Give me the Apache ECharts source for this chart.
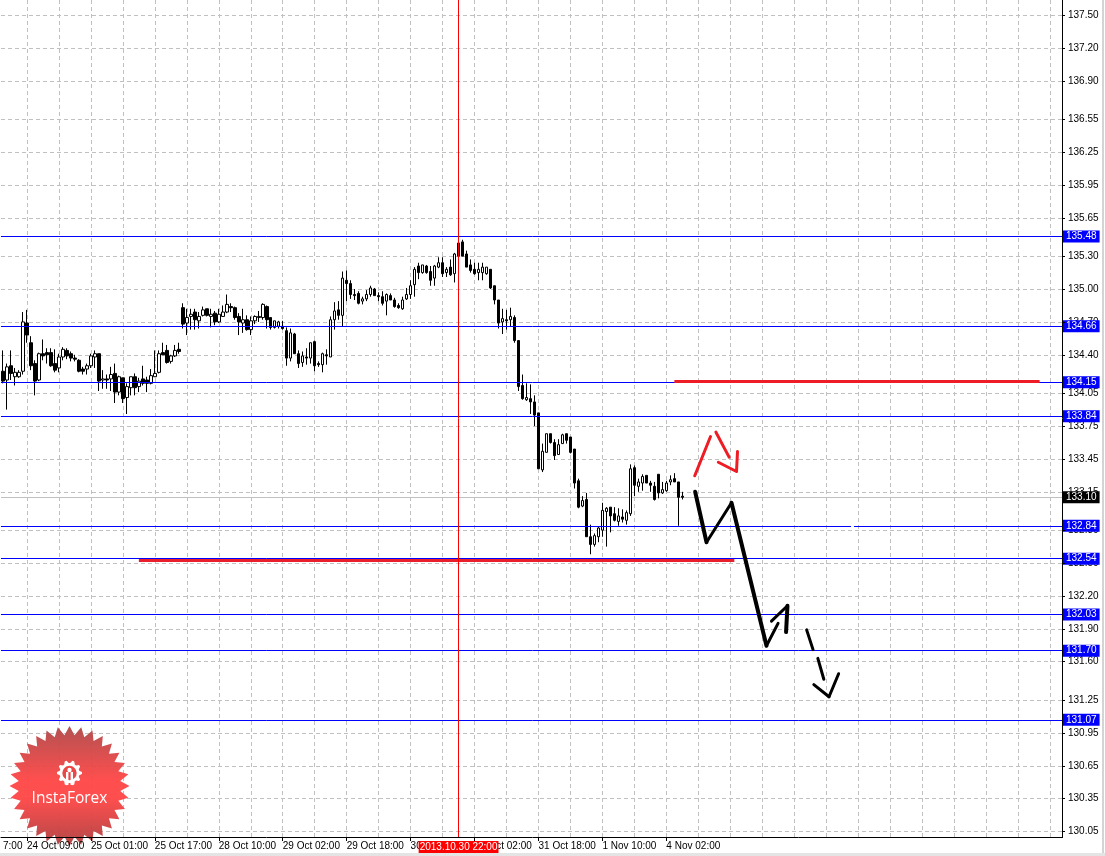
<!DOCTYPE html>
<html><head><meta charset="utf-8">
<style>html,body{margin:0;padding:0;background:#fff}#c{width:1105px;height:856px}</style>
<script src="https://cdn.jsdelivr.net/npm/echarts@6/dist/echarts.min.js"></script>
</head><body><div id="c"></div>
<script>
const opens=[134.25,134.17,134.30,134.20,134.20,134.25,134.69,134.51,134.32,134.17,
134.41,134.42,134.42,134.32,134.28,134.38,134.44,134.41,134.37,134.35,
134.27,134.27,134.30,134.38,134.41,134.17,134.18,134.18,134.23,134.06,
134.19,134.01,134.10,134.20,134.11,134.18,134.17,134.14,134.20,134.24,
134.42,134.44,134.34,134.39,134.45,134.83,134.69,134.75,134.79,134.71,
134.76,134.82,134.75,134.78,134.70,134.75,134.79,134.84,134.83,134.75,
134.69,134.72,134.63,134.71,134.74,134.74,134.84,134.74,134.65,134.66,
134.66,134.62,134.37,134.59,134.41,134.33,134.38,134.37,134.52,134.32,
134.31,134.40,134.38,134.72,134.81,134.76,135.08,135.05,134.95,134.96,
134.89,134.91,134.95,135.00,134.94,134.93,134.89,134.94,134.90,134.85,
134.82,134.91,134.95,135.04,135.21,135.15,135.21,135.16,135.10,135.20,
135.24,135.15,135.20,135.14,135.42,135.43,135.32,135.22,135.18,135.15,
135.15,135.14,135.18,135.03,134.90,134.70,134.72,134.72,134.74,134.53,
134.12,133.99,134.00,133.97,133.87,133.35,133.51,133.68,133.60,133.49,
133.59,133.68,133.65,133.54,133.25,133.02,133.08,132.74,132.67,132.74,
132.80,132.97,133.01,132.95,132.88,132.92,132.89,132.95,133.37,133.20,
133.23,133.30,133.23,133.20,133.31,133.14,133.16,133.24,133.27,133.24,133.11];
const closes=[134.16,134.29,134.23,134.24,134.24,134.70,134.58,134.30,134.16,134.41,
134.39,134.40,134.30,134.26,134.38,134.45,134.39,134.37,134.36,134.25,
134.25,134.30,134.39,134.41,134.16,134.18,134.17,134.22,134.06,134.20,
134.00,134.11,134.20,134.10,134.16,134.14,134.14,134.21,134.23,134.41,
134.40,134.33,134.39,134.44,134.43,134.68,134.74,134.77,134.72,134.75,
134.81,134.76,134.77,134.70,134.77,134.79,134.86,134.83,134.74,134.70,
134.72,134.63,134.71,134.75,134.75,134.86,134.72,134.65,134.71,134.70,
134.64,134.37,134.60,134.41,134.32,134.39,134.37,134.51,134.30,134.31,
134.41,134.39,134.72,134.80,134.76,135.10,135.05,134.95,134.94,134.87,
134.91,134.95,135.01,134.94,134.93,134.87,134.95,134.90,134.84,134.83,
134.90,134.95,135.03,135.18,135.15,135.22,135.15,135.08,135.21,135.24,
135.14,135.18,135.13,135.32,135.30,135.30,135.20,135.17,135.14,135.18,
135.20,135.20,135.01,134.90,134.69,134.73,134.71,134.75,134.53,134.11,
134.00,134.01,133.97,133.85,133.36,133.52,133.68,133.60,133.48,133.58,
133.67,133.62,133.51,133.23,133.01,133.07,132.74,132.67,132.75,132.82,
132.98,133.00,132.93,132.89,132.93,132.90,132.96,133.36,133.21,133.24,
133.29,133.23,133.21,133.08,133.14,133.17,133.23,133.26,133.24,133.10,133.10];
const lows=[134.14,133.90,134.17,134.12,134.19,134.22,134.51,134.26,134.03,134.16,
134.35,134.32,134.29,134.24,134.24,134.35,134.36,134.34,134.34,134.24,
134.22,134.22,134.28,134.28,134.07,134.09,134.09,134.07,133.96,134.03,
133.96,133.86,134.03,134.03,134.06,134.12,134.06,134.13,134.20,134.23,
134.40,134.32,134.32,134.38,134.41,134.64,134.58,134.63,134.63,134.64,
134.75,134.75,134.65,134.67,134.69,134.75,134.78,134.79,134.72,134.58,
134.60,134.62,134.58,134.68,134.70,134.72,134.64,134.63,134.64,134.64,
134.63,134.30,134.34,134.41,134.28,134.29,134.31,134.32,134.25,134.29,
134.24,134.31,134.38,134.63,134.72,134.66,134.89,134.91,134.90,134.86,
134.86,134.89,134.93,134.94,134.89,134.85,134.76,134.90,134.83,134.82,
134.81,134.90,134.91,134.93,135.09,135.14,135.14,135.03,135.03,135.19,
135.11,135.11,135.12,135.06,135.30,135.30,135.20,135.15,135.13,135.08,
135.08,135.13,135.00,134.86,134.64,134.59,134.63,134.66,134.51,134.07,
133.99,133.98,133.86,133.75,133.36,133.33,133.51,133.59,133.44,133.49,
133.59,133.59,133.50,133.18,133.00,133.01,132.74,132.58,132.65,132.69,
132.74,132.65,132.78,132.88,132.84,132.87,132.85,132.93,133.11,133.15,
133.16,133.23,133.15,133.07,133.09,133.13,133.15,133.21,133.24,132.84,133.08];
const highs=[134.44,134.32,134.44,134.28,134.26,134.79,134.81,134.57,134.35,134.42,
134.54,134.46,134.46,134.45,134.41,134.47,134.46,134.43,134.40,134.36,
134.29,134.32,134.41,134.44,134.41,134.26,134.22,134.29,134.32,134.21,
134.19,134.14,134.20,134.23,134.19,134.30,134.20,134.27,134.44,134.44,
134.51,134.49,134.40,134.49,134.51,134.87,134.82,134.82,134.82,134.79,
134.84,134.82,134.82,134.80,134.82,134.85,134.95,134.87,134.84,134.78,
134.82,134.76,134.75,134.76,134.80,134.87,134.85,134.74,134.71,134.71,
134.71,134.65,134.64,134.60,134.44,134.43,134.46,134.51,134.53,134.34,
134.42,134.45,134.75,134.88,134.89,135.16,135.17,135.08,135.00,134.98,
134.93,134.99,135.03,135.01,134.97,134.98,134.96,134.96,134.92,134.87,
134.93,135.01,135.08,135.20,135.24,135.22,135.22,135.21,135.22,135.29,
135.29,135.20,135.27,135.33,135.42,135.45,135.35,135.27,135.24,135.24,
135.24,135.20,135.18,135.03,134.90,134.82,134.81,134.83,134.76,134.53,
134.22,134.14,134.13,134.03,133.87,133.59,133.68,133.68,133.63,133.63,
133.68,133.68,133.65,133.54,133.27,133.11,133.14,132.85,132.77,132.83,
133.05,133.01,133.01,133.01,133.00,132.99,132.98,133.40,133.39,133.27,
133.31,133.30,133.25,133.24,133.31,133.24,133.25,133.30,133.32,133.24,133.15];

const priceTicks=[137.50,137.20,136.90,136.55,136.25,135.95,135.65,135.30,135.00,134.70,134.40,134.05,133.75,133.45,133.15,132.80,132.50,132.20,131.90,131.60,131.25,130.95,130.65,130.35,130.05];
const levels=[135.48,134.66,134.15,133.84,132.84,132.54,132.03,131.70,131.07];
const currentPrice=[133.10];
const timeTickBars=[0,6,22,38,54,70,86,102,118,134,150,166];
const timeTickLabels=["7:00","24 Oct 09:00","25 Oct 01:00","25 Oct 17:00","28 Oct 10:00","29 Oct 02:00","29 Oct 18:00","30 Oct 10:00","31 Oct 02:00","31 Oct 18:00","1 Nov 10:00","4 Nov 02:00"];
const gridBars=[6,14,22,30,38,46,54,62,70,78,86,94,102,110,118,126,134,142,150,158,166,174,182,190,198,206,214,222,230,238,246,254,262];
const cursorBar=[114], cursorLabel="2013.10.30 22:00";
const slotCount=266;
const categories=Array.from({length:slotCount},(_,i)=>{const k=timeTickBars.indexOf(i);return k>=0?timeTickLabels[k]:"bar "+i;});

// hand-drawn strokes: [bar position, price]
const redBars=[[168,134.156],[259.4,134.156]];
const redSupport=[[34,132.523],[183,132.523]];
const redStrokes=[
 [[173.1,133.296],[177.05,133.654]],
 [[178.4,133.694],[181.7,133.466]],
 [[179,133.42],[183.55,133.335],[183.8,133.517]]];
const blackStrokes=[
 [[173.2,133.15],[176.05,132.69]],
 [[176.05,132.69],[182.3,133.05]],
 [[182.3,133.05],[191.05,131.745]],
 [[191.05,131.745],[193.95,131.95]],
 [[192.3,131.97],[196.3,132.11]],
 [[196.3,132.11],[195.95,131.87]],
 [[201.1,131.89],[202.7,131.71]],
 [[203.9,131.63],[205.4,131.44]],
 [[202.9,131.39],[206.7,131.28]],
 [[206.7,131.28],[209.1,131.49]]];
const blackWidths=[4,3,4,3,3,4,3,3,3,3];

const FONT='"Liberation Sans",sans-serif';
const yMin=130.00039,yMax=137.63725;
const chart=echarts.init(document.getElementById('c'),null,{renderer:'canvas'});

const strokeSeries=(pts,color,w,z,cap)=>({type:'line',xAxisIndex:1,data:pts,symbol:'none',silent:true,animation:false,z:z,
  lineStyle:{color:color,width:w,cap:cap||'round',join:'round'}});

// every price layer shares one scale; each layer is its own axis so it can stack at its own z
const yLayer=(opt)=>Object.assign({type:'value',position:'right',min:yMin,max:yMax,
  axisLine:{show:false},axisTick:{show:false},axisLabel:{show:false},splitLine:{show:false}},opt);
const lineLayer=(z,values,style)=>yLayer({z:z,axisTick:{show:false,customValues:values},splitLine:{show:true,lineStyle:style}});
const labelLayer=(z,values,text,bg)=>yLayer({z:z,offset:-2,
  axisLabel:Object.assign({show:true,margin:1,color:text,fontFamily:FONT,fontSize:10,customValues:values,formatter:(v)=>v.toFixed(2),hideOverlap:false,showMinLabel:true,showMaxLabel:true},
    bg?{backgroundColor:bg,padding:[0,3,0,3],lineHeight:12}:{margin:6})});

// logo shape
const logoC=[69.5,786], logoTeeth=32, logoOuter=60, logoInner=51;
const burst=[];for(let i=0;i<logoTeeth*2;i++){const r=i%2?logoInner:logoOuter,a=Math.PI*i/logoTeeth-Math.PI/2;burst.push([logoC[0]+r*Math.cos(a),logoC[1]+r*Math.sin(a)]);}
const gearC=[69.5,773],gear=[];for(let i=0;i<40;i++){const r=(i%4<2)?12.5:10,a=Math.PI*2*(i-0.5)/40;gear.push([gearC[0]+r*Math.cos(a),gearC[1]+r*Math.sin(a)]);}

chart.setOption({
 animation:false,
 backgroundColor:'#ffffff',
 grid:{left:0,top:0,width:1064,height:837,containLabel:false},
 xAxis:[{type:'category',position:'bottom',data:categories,boundaryGap:true,z:20,
   axisLine:{show:true,lineStyle:{color:'#000',width:1}},
   axisTick:{show:true,alignWithLabel:true,length:4,lineStyle:{color:'#000'},interval:(i)=>timeTickBars.includes(i)&&i>0},
   axisLabel:{show:true,interval:(i)=>timeTickBars.includes(i),align:'left',color:'#000',fontFamily:FONT,fontSize:10,margin:4,hideOverlap:false,showMinLabel:true},
   splitLine:{show:false}},
  {type:'value',position:'bottom',min:-0.5,max:265.5,show:true,z:0,axisLine:{show:false},axisLabel:{show:false},
   axisTick:{show:false,customValues:gridBars},
   splitLine:{show:true,lineStyle:{color:'#c0c0c0',type:[4,3],width:1}}},
  {type:'value',position:'bottom',min:-0.5,max:265.5,show:true,z:30,axisLine:{show:false},
   axisTick:{show:false,customValues:cursorBar},
   axisLabel:{show:true,customValues:cursorBar,formatter:()=>cursorLabel,margin:4,color:'#fff',backgroundColor:'#ff0000',fontFamily:FONT,fontSize:10,padding:[0,1,0,1],lineHeight:12,hideOverlap:false},
   splitLine:{show:true,lineStyle:{color:'#ff0000',type:'solid',width:1}}}],
 yAxis:[
  lineLayer(0,priceTicks,{color:'#c0c0c0',type:[4,3],width:1}),
  labelLayer(5,priceTicks,'#000',null),
  lineLayer(8,levels,{color:'#0000ff',type:'solid',width:1}),
  labelLayer(11,levels,'#fff','#0000ff'),
  lineLayer(2,currentPrice,{color:'#c0c0c0',type:'solid',width:1}),
  labelLayer(11,currentPrice,'#fff','#000'),
  yLayer({z:12,offset:-2,axisLine:{show:true,lineStyle:{color:'#000',width:1}},
   axisTick:{show:true,length:3,lineStyle:{color:'#000'},customValues:priceTicks}})],
 series:[
  {type:'candlestick',xAxisIndex:0,yAxisIndex:0,data:opens.map((o,i)=>[o,closes[i],lows[i],highs[i]]),barWidth:3,z:3,silent:true,
   itemStyle:{color:'#ffffff',color0:'#000000',borderColor:'#000000',borderColor0:'#000000',borderColorDoji:'#000000',borderWidth:1}},
  strokeSeries(redBars,'#ee1c25',3,9,'butt'),
  strokeSeries(redSupport,'#e8202c',3,9,'butt'),
  ...redStrokes.map(s=>strokeSeries(s,'#ee1c25',3,10)),
  ...blackStrokes.map((s,k)=>strokeSeries(s,'#000',blackWidths[k],11))
 ],
 graphic:{elements:[
  {type:'rect',z:9,silent:true,shape:{x:1063,y:0,width:3,height:840},style:{fill:'#fff'}},
  {type:'rect',z:9,silent:true,shape:{x:851,y:525,width:3,height:3},style:{fill:'#fff'}},
  {type:'rect',z:21,silent:true,shape:{x:1063,y:835,width:3,height:4},style:{fill:'#fff'}},
  {type:'rect',z:40,silent:true,shape:{x:1102,y:0,width:2,height:853},style:{fill:'#d4d4d4'}},
  {type:'rect',z:40,silent:true,shape:{x:0,y:853,width:1105,height:3},style:{fill:'#e4e4e4'}},
  {type:'polygon',z:7,silent:true,shape:{points:burst},style:{opacity:0.95,fill:{type:'linear',x:0,y:0,x2:0,y2:1,colorStops:[{offset:0,color:'#b04848'},{offset:0.45,color:'#ff4545'},{offset:0.6,color:'#ff4545'},{offset:1,color:'#b03e3e'}]}}},
  {type:'polygon',z:7,silent:true,shape:{points:gear},style:{fill:'#fff'}},
  {type:'circle',z:7,silent:true,shape:{cx:gearC[0],cy:gearC[1],r:7.2},style:{fill:'#e84848'}},
  {type:'circle',z:7,silent:true,shape:{cx:gearC[0],cy:gearC[1]-3,r:2.2},style:{fill:'#fff'}},
  {type:'rect',z:7,silent:true,shape:{x:gearC[0]-3.5,y:gearC[1]-1,width:2.4,height:13},style:{fill:'#fff'}},
  {type:'rect',z:7,silent:true,shape:{x:gearC[0]+1.1,y:gearC[1]-1,width:2.4,height:13},style:{fill:'#fff'}},
  {type:'text',z:7,silent:true,x:logoC[0],y:799,style:{text:'InstaForex',fill:'#fff',fontFamily:'"Open Sans",sans-serif',fontSize:15.5,align:'center',verticalAlign:'middle'}}
 ]}
});
</script></body></html>
